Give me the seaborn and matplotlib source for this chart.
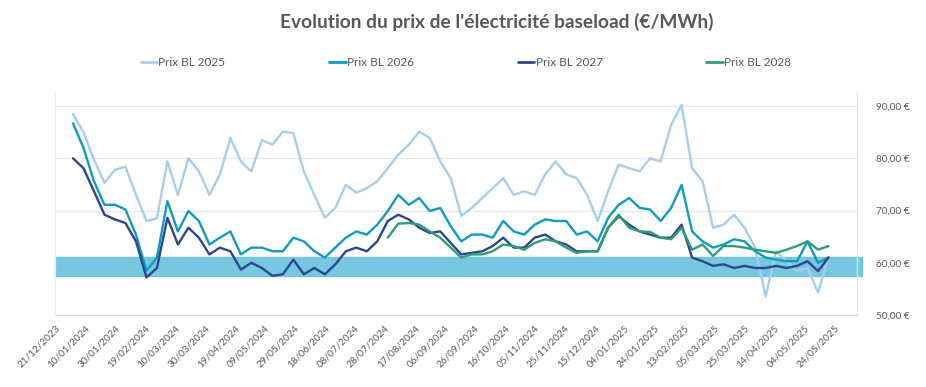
import numpy as np
import pandas as pd
import matplotlib
matplotlib.use("Agg")
import matplotlib.pyplot as plt
import matplotlib.dates as mdates
from matplotlib.ticker import FuncFormatter, FixedLocator
import seaborn as sns

# hebdo, à partir du 02/01/2024
dates = pd.date_range("2024-01-02", periods=73, freq="7D")

prix_2025 = [88.5, 85.0, 79.7, 75.3, 77.8, 78.4, 73.0, 68.0, 68.5, 79.4,
             73.0, 80.0, 77.5, 73.0, 76.9, 83.9, 79.4, 77.5, 83.5, 82.6,
             85.1, 84.8, 77.5, 73.0, 68.6, 70.5, 74.9, 73.4, 74.3, 75.6,
             78.1, 80.7, 82.6, 85.1, 83.9, 79.4, 76.2, 69.0, 70.5, 72.4,
             74.3, 76.2, 73.0, 73.7, 73.0, 76.9, 79.4, 76.9, 76.2, 73.0,
             68.0, 73.7, 78.8, 78.1, 77.5, 80.0, 79.4, 86.4, 90.2, 78.1,
             75.6, 66.7, 67.3, 69.2, 66.7, 62.9, 53.5, 62.2, 60.3, 58.4,
             59.0, 54.3, 61.0]
prix_2026 = [86.7, 82.0, 75.6, 71.1, 71.1, 70.2, 65.4, 58.5, 61.0, 71.8,
             66.0, 69.9, 68.0, 63.5, 64.8, 66.0, 61.6, 62.9, 62.9, 62.2,
             62.2, 64.8, 64.1, 62.2, 61.0, 62.9, 64.8, 66.0, 65.4, 67.3,
             69.9, 73.0, 71.1, 72.4, 69.9, 70.5, 67.0, 64.1, 65.4, 65.4,
             64.8, 68.0, 66.0, 65.4, 67.3, 68.3, 68.0, 68.0, 65.4, 66.0,
             64.1, 68.6, 71.1, 72.4, 70.5, 70.2, 68.0, 70.5, 74.9, 66.0,
             64.1, 62.9, 63.5, 64.5, 64.1, 62.2, 61.0, 60.6, 60.3, 60.3,
             64.1, 60.0, 61.0]
prix_2027 = [80.0, 78.1, 73.7, 69.2, 68.3, 67.6, 64.1, 57.2, 59.0, 68.6,
             63.5, 66.7, 64.8, 61.6, 62.9, 62.2, 58.7, 60.0, 59.0, 57.5,
             57.8, 60.6, 57.8, 59.0, 57.8, 59.7, 62.2, 62.9, 62.2, 64.1,
             68.0, 69.2, 68.3, 66.7, 65.7, 66.0, 63.8, 61.6, 61.9, 62.2,
             63.2, 64.8, 62.9, 62.9, 64.8, 65.4, 64.1, 63.5, 62.2, 62.2,
             62.2, 66.7, 68.9, 67.3, 66.0, 65.4, 64.8, 64.8, 67.3, 61.0,
             60.3, 59.4, 59.7, 59.0, 59.4, 59.0, 59.0, 59.4, 59.0, 59.4,
             60.3, 58.4, 61.0]
prix_2028 = [np.nan] * 30 + [
             64.8, 67.5, 67.6, 67.3, 66.0, 64.8, 62.9, 61.0, 61.6, 61.6,
             62.2, 63.5, 63.2, 62.5, 63.8, 64.5, 64.1, 62.9, 61.9, 62.2,
             62.2, 66.7, 69.2, 66.7, 66.0, 65.9, 64.8, 64.5, 66.7, 62.5,
             63.5, 61.3, 63.2, 63.2, 62.9, 62.5, 62.2, 61.9, 62.5, 63.2,
             64.1, 62.5, 63.2]

series = ["Prix BL 2025", "Prix BL 2026", "Prix BL 2027", "Prix BL 2028"]
couleurs = ["#A7CEEC", "#0E9CC4", "#2B4790", "#2E9E74"]

# zone cible
bande_bas, bande_haut = 57.45, 61.15

df = pd.DataFrame({"date": dates, series[0]: prix_2025, series[1]: prix_2026,
                   series[2]: prix_2027, series[3]: prix_2028})
long = df.melt(id_vars="date", var_name="serie", value_name="prix").dropna()

sns.set_style("white")
plt.rcParams["font.family"] = ["Lato", "DejaVu Sans"]
gris = "#595959"

fig = plt.figure(figsize=(9.26, 3.87), dpi=100)
ax = fig.add_axes([55 / 926, 1 - 315 / 387, (857 - 55) / 926, (315 - 93) / 387])

ax.axhspan(bande_bas, bande_haut, xmin=0, xmax=1.006, color="#6FC4DE", alpha=0.95,
           zorder=1, clip_on=False)

sns.lineplot(data=long, x="date", y="prix", hue="serie", hue_order=series,
             palette=couleurs, linewidth=1.7, ax=ax, legend=False, zorder=3)

x0 = pd.Timestamp("2023-12-21")
ax.set_xlim(x0, pd.Timestamp("2025-06-08"))
ax.set_ylim(50, 92.5)

ticks = pd.date_range(x0, "2025-05-24", freq="20D")
ax.xaxis.set_major_locator(FixedLocator(mdates.date2num(ticks)))
ax.xaxis.set_major_formatter(mdates.DateFormatter("%d/%m/%Y"))
for lab in ax.get_xticklabels():
    lab.set_rotation(45)
    lab.set_ha("right")
    lab.set_rotation_mode("anchor")
ax.tick_params(axis="x", labelsize=7.2, colors=gris, length=4, width=0.8,
               color="#D9D9D9", direction="out", pad=2)

ax.yaxis.tick_right()
ax.set_yticks([50, 60, 70, 80, 90])
ax.yaxis.set_major_formatter(FuncFormatter(lambda v, p: f"{v:.2f} €".replace(".", ",")))
ax.tick_params(axis="y", labelsize=7.2, colors=gris, length=0, pad=14)

ax.grid(axis="y", color="#E9E9E9", linewidth=0.9)
ax.set_axisbelow(True)
ax.set_xlabel("")
ax.set_ylabel("")
ax.spines["top"].set_visible(False)
ax.spines["bottom"].set_color("#D9D9D9")
ax.spines["left"].set_color("#E4ECF4")
ax.spines["right"].set_color("#DCE8F4")
for s in ["bottom", "left", "right"]:
    ax.spines[s].set_linewidth(0.9)

fig.text(497 / 926, 1 - 22 / 387, "Evolution du prix de l'électricité baseload (€/MWh)",
         ha="center", va="center", fontsize=13.8, fontweight="bold", color=gris)

handles = [plt.Line2D([], [], color=c, linewidth=2) for c in couleurs]
fig.legend(handles, series, loc="center left", bbox_to_anchor=(130 / 926, 1 - 63 / 387),
           ncol=4, frameon=False, fontsize=8.5, handlelength=1.4, handletextpad=0.1,
           columnspacing=8.8, labelcolor=gris)

fig.savefig("out.png", dpi=100)
